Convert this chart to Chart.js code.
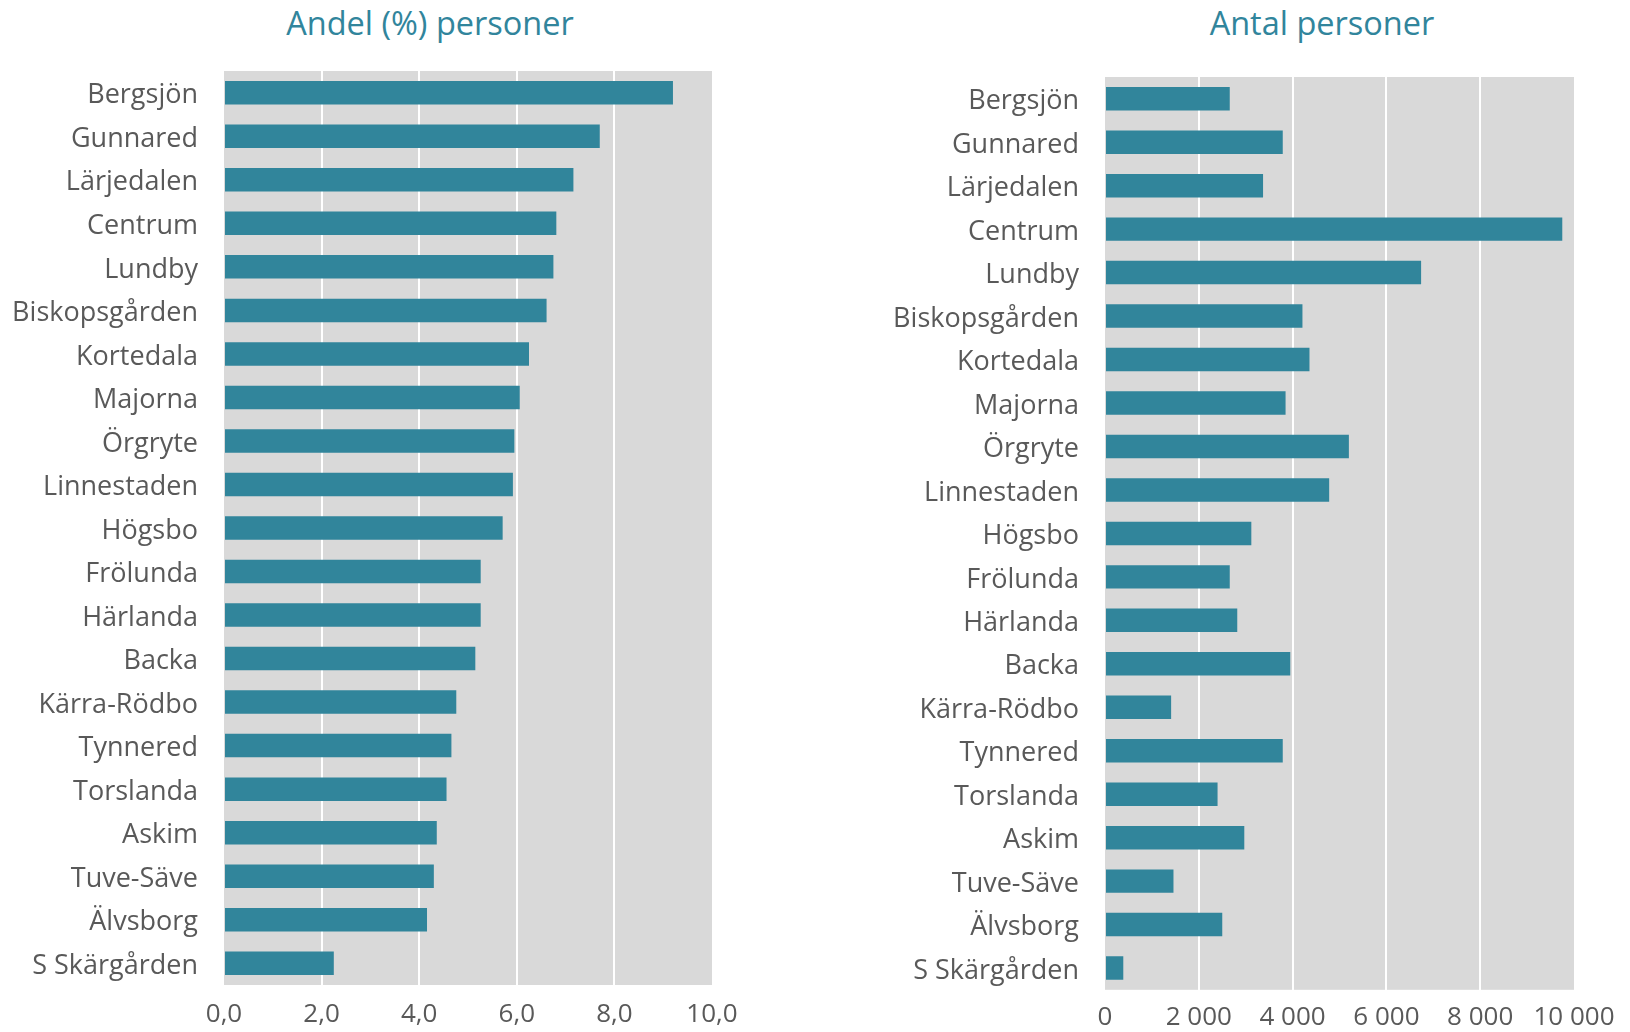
<!DOCTYPE html>
<html>
<head>
<meta charset="utf-8">
<script src="https://cdn.jsdelivr.net/npm/chart.js@4.4.0/dist/chart.umd.min.js"></script>
<style>
    body { margin: 0; background: #fff; width: 1630px; height: 1032px; position: relative; overflow: hidden; font-family: "Open Sans", sans-serif; }
    .title { position: absolute; top: 3px; height: 40px; line-height: 40px; color: #31859c; font-size: 32.5px; text-align: center; white-space: nowrap; }
    .box { position: absolute; top: 0; height: 1032px; }
</style>
</head>
<body>
<div class="title" style="left:230px; width:400px;">Andel (%) personer</div>
<div class="title" style="left:1122px; width:400px;">Antal personer</div>
<div class="box" style="left:0; width:760px;"><canvas id="canvas-share"></canvas></div>
<div class="box" style="left:830px; width:800px;"><canvas id="canvas-count"></canvas></div>
<script>
const districts = [
    'Bergsjön', 'Gunnared', 'Lärjedalen', 'Centrum', 'Lundby', 'Biskopsgården',
    'Kortedala', 'Majorna', 'Örgryte', 'Linnestaden', 'Högsbo', 'Frölunda',
    'Härlanda', 'Backa', 'Kärra-Rödbo', 'Tynnered', 'Torslanda', 'Askim',
    'Tuve-Säve', 'Älvsborg', 'S Skärgården',
];

// andel (%) personer
const sharePercent = [
    9.2, 7.7, 7.16, 6.81, 6.75, 6.61,
    6.25, 6.06, 5.95, 5.92, 5.71, 5.26,
    5.26, 5.15, 4.76, 4.66, 4.56, 4.36,
    4.3, 4.16, 2.25,
];

// antal personer
const personCount = [
    2660, 3790, 3370, 9750, 6740, 4210,
    4360, 3850, 5200, 4780, 3120, 2660,
    2820, 3950, 1410, 3790, 2400, 2970,
    1460, 2500, 390,
];

const shareTicks = [0, 2, 4, 6, 8, 10];
const countTicks = [0, 2000, 4000, 6000, 8000, 10000];

const barColor = '#31859b';
const plotColor = '#d9d9d9';
const textColor = '#595959';
const fontFamily = 'Open Sans';

const plotBackground = {
    id: 'plotBackground',
    beforeDraw: function (chart) {
        let a = chart.chartArea;
        let ctx = chart.ctx;
        ctx.save();
        ctx.fillStyle = plotColor;
        ctx.fillRect(a.left, a.top, a.right - a.left, a.bottom - a.top);
        ctx.restore();
    }
};

function formatShare(value) {
    return value.toFixed(1).replace('.', ',');
}

function formatCount(value) {
    return String(value).replace(/\B(?=(\d{3})+(?!\d))/g, ' ');
}

function makeChart(canvasId, values, ticks, format, box) {
    let last = ticks[ticks.length - 1];
    return new Chart(document.getElementById(canvasId), {
        type: 'bar',
        data: {
            labels: districts,
            datasets: [{
                data: values,
                backgroundColor: barColor,
                borderWidth: 0,
                categoryPercentage: 1,
                barPercentage: 0.54,
            }]
        },
        options: {
            indexAxis: 'y',
            responsive: true,
            maintainAspectRatio: false,
            animation: false,
            layout: {
                padding: {top: box.top, right: box.right, bottom: 0, left: 0}
            },
            plugins: {
                legend: {display: false},
                tooltip: {enabled: false},
                title: {display: false},
            },
            scales: {
                x: {
                    min: ticks[0],
                    max: last,
                    afterBuildTicks: function (scale) {
                        scale.ticks = ticks.map(function (v) { return {value: v}; });
                    },
                    afterFit: function (scale) {
                        scale.height = box.axisHeight;
                    },
                    border: {display: false},
                    grid: {
                        drawTicks: false,
                        lineWidth: 2,
                        color: function (ctx) {
                            if (ctx.tick && (ctx.tick.value === ticks[0] || ctx.tick.value === last)) {
                                return 'rgba(0,0,0,0)';
                            }
                            return '#ffffff';
                        },
                    },
                    ticks: {
                        padding: box.tickPad,
                        color: textColor,
                        font: {family: fontFamily, size: 26},
                        maxRotation: 0,
                        callback: function (value) { return format(value); },
                    },
                },
                y: {
                    afterFit: function (scale) {
                        scale.width = box.axisWidth;
                    },
                    border: {display: false},
                    grid: {display: false, drawTicks: false},
                    ticks: {
                        padding: 26,
                        labelOffset: 3,
                        color: textColor,
                        font: {family: fontFamily, size: 27},
                        autoSkip: false,
                    },
                },
            },
        },
        plugins: [plotBackground],
    });
}

let shareChart = makeChart('canvas-share', sharePercent, shareTicks, formatShare,
    {top: 71, right: 48, axisHeight: 47, axisWidth: 224, tickPad: 14});
let countChart = makeChart('canvas-count', personCount, countTicks, formatCount,
    {top: 77, right: 56, axisHeight: 40, axisWidth: 275, tickPad: 12});
</script>
</body>
</html>
